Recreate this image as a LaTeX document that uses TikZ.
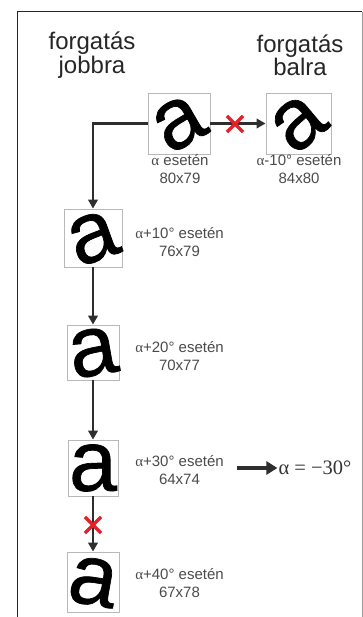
\documentclass[tikz,border=0pt]{standalone}
\usepackage{fontspec}
\setmainfont{Liberation Sans}
\newfontfamily\serif{Liberation Serif}
\newfontfamily\lettfont[FakeBold=0.8]{Liberation Sans}
\usetikzlibrary{arrows.meta,shapes.misc}
\definecolor{lbl}{HTML}{4A4A4A}
\definecolor{arr}{HTML}{2E2E2E}
\definecolor{xred}{HTML}{E4202A}
\definecolor{boxc}{HTML}{B8B8B8}
\newcommand\al{{\serif α}}
\begin{document}
\begin{tikzpicture}[x=1pt,y=-1pt,
  abox/.style={draw=boxc, line width=0.9pt, inner sep=0pt},
  letter/.style={inner sep=0pt, font=\lettfont\fontsize{86}{86}\selectfont},
  lab/.style={align=center, text=lbl, inner sep=0pt, font=\fontsize{15}{18}\selectfont},
  title/.style={align=center, text=black!85, inner sep=0pt, font=\fontsize{24}{22}\selectfont},
  arrowln/.style={draw=arr, line width=2.2pt, -{Triangle[length=9pt,width=9.5pt]}},
  bigarrow/.style={draw=arr, line width=4.5pt, -{Triangle[length=11pt,width=13pt]}},
  redx/.style={cross out, draw=xred, line width=3.2pt, minimum size=13pt, inner sep=0pt}]
\useasboundingbox (0,0) rectangle (363,617);
% frame
\draw[line width=1.6pt, black!85] (17.5,618) -- (17.5,11.7) -- (362,11.7);
\draw[line width=1pt, black!40] (362,11.7) -- (362,618);
% titles
\node[title] (t1) at (92,55) {forgatás\\jobbra};
\node[title] (t2) at (300,55) {forgatás\\balra};
% boxes
\node[abox, minimum width=62pt, minimum height=61pt] (b1) at (179,123.5) {};
\node[abox, minimum width=65pt, minimum height=61pt] (b2) at (298.5,123.5) {};
\node[abox, minimum width=58pt, minimum height=58pt] (b3) at (93,238) {};
\node[abox, minimum width=52pt, minimum height=55pt] (b4) at (93,352.5) {};
\node[abox, minimum width=50pt, minimum height=56pt] (b5) at (93,468) {};
\node[abox, minimum width=52pt, minimum height=60pt] (b6) at (93,582) {};
% letters
\node[letter, rotate=30] (a1) at (b1) {a};
\node[letter, rotate=40] (a2) at (b2) {a};
\node[letter, rotate=20] (a3) at (b3) {a};
\node[letter, rotate=10] (a4) at (b4) {a};
\node[letter] (a5) at (b5) {a};
\node[letter, rotate=-10] (a6) at (b6) {a};
% labels
\node[lab] (l1) at (180,169) {\al{} esetén\\80x79};
\node[lab] (l2) at (299,169) {\al-10° esetén\\84x80};
\node[lab] (l3) at (179.5,242.5) {\al+10° esetén\\76x79};
\node[lab] (l4) at (179.5,356) {\al+20° esetén\\70x77};
\node[lab] (l5) at (179.5,470.5) {\al+30° esetén\\64x74};
\node[lab] (l6) at (179.5,583.5) {\al+40° esetén\\67x78};
\node[inner sep=1pt, text=black!80, font=\serif\fontsize{20.5}{20}\selectfont] (res) at (315,468) {α = −30°};
% connectors
\draw[arrowln] (b1.west) -| (b3.north);
\draw[arrowln] (b1.east) -- (b2.west);
\draw[arrowln] (b3.south) -- (b4.north);
\draw[arrowln] (b4.south) -- (b5.north);
\draw[arrowln] (b5.south) -- (b6.north);
\coordinate (rs) at (236.5,468);
\draw[bigarrow] (rs) -- (res.west);
% crosses
\node[redx] (x1) at (235,124) {};
\node[redx] (x2) at (93,525) {};
\end{tikzpicture}
\end{document}
